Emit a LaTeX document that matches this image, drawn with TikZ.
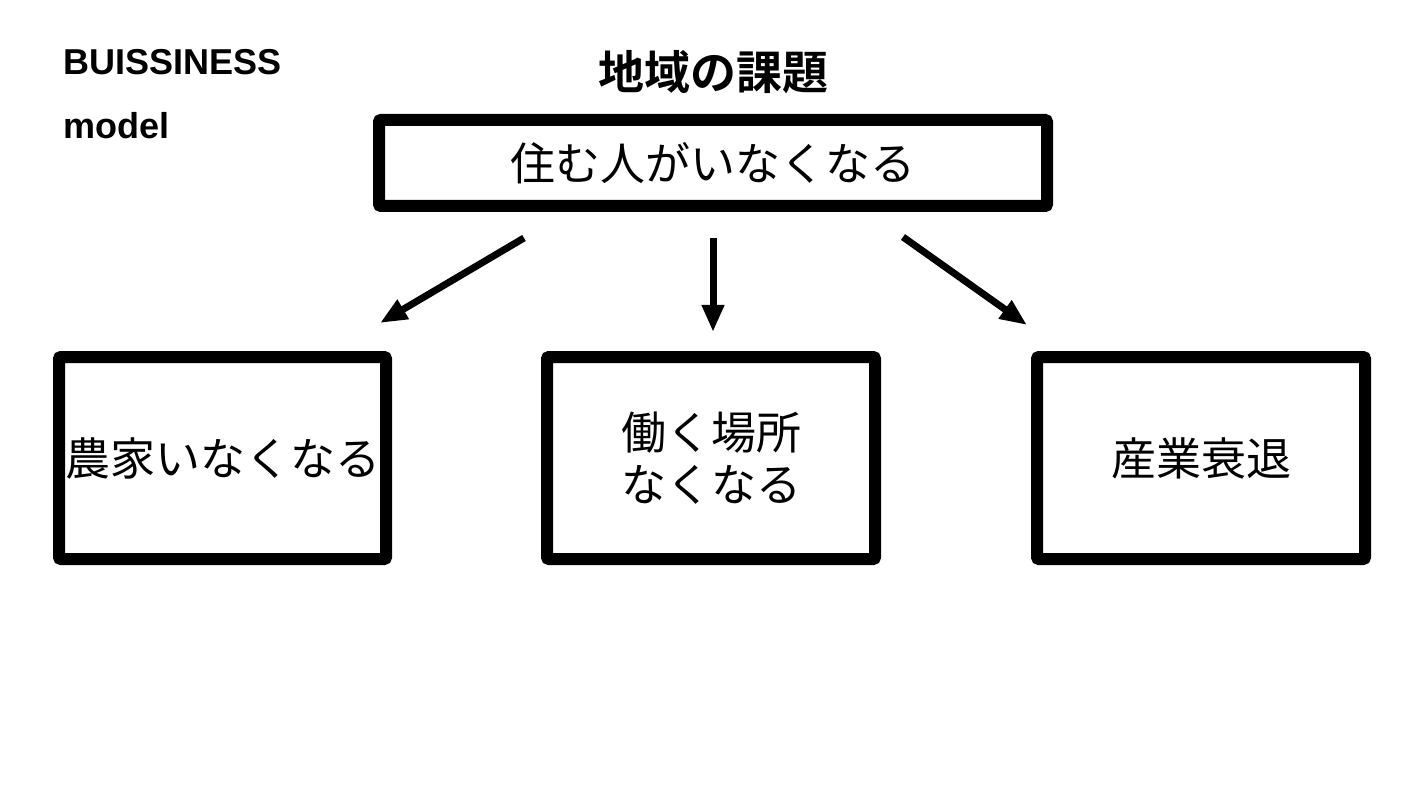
\documentclass[tikz,border=0pt]{standalone}
\usepackage{fontspec}
\setmainfont{Liberation Sans}
\newfontfamily\jpfont{Noto Sans CJK JP}
\newfontfamily\jpbold{Noto Sans CJK JP Bold}
\usetikzlibrary{arrows.meta}
\begin{document}
\begin{tikzpicture}[x=1pt, y=-1pt,
  box/.style={draw, line width=12pt, rounded corners=2pt, inner sep=0pt, outer sep=0pt, font=\jpfont\fontsize{45}{52}\selectfont, align=center},
  arr/.style={line width=7pt, -{Triangle[length=27pt,width=21pt]}}]
\useasboundingbox (0,0) rectangle (1424,794);
\node[anchor=base west, inner sep=0pt, font=\bfseries\fontsize{36}{40}\selectfont] (head1) at (63,75){BUISSINESS};
\node[anchor=base west, inner sep=0pt, font=\bfseries\fontsize{36}{40}\selectfont] (head2) at (63,139){model};
\node[font=\jpbold\fontsize{46}{52}\selectfont] (title) at (713,72){地域の課題};
\node[box, minimum width=668pt, minimum height=86pt] (top) at (713,163){住む人がいなくなる};
\node[box, minimum width=327pt, minimum height=202pt] (farm) at (222.5,458){農家いなくなる};
\node[box, minimum width=328pt, minimum height=202pt] (work) at (711,458){働く場所\\なくなる};
\node[box, minimum width=328pt, minimum height=202pt] (ind) at (1201,458){産業衰退};
\draw[arr] ([xshift=-189pt, yshift=-32pt]top.south) -- ([xshift=-6pt, yshift=34pt]farm.north east);
\draw[arr] ([yshift=-32pt]top.south) -- ([xshift=2pt, yshift=25pt]work.north);
\draw[arr] ([xshift=190pt, yshift=-31pt]top.south) -- ([xshift=-10pt, yshift=32pt]ind.north west);
\end{tikzpicture}
\end{document}
